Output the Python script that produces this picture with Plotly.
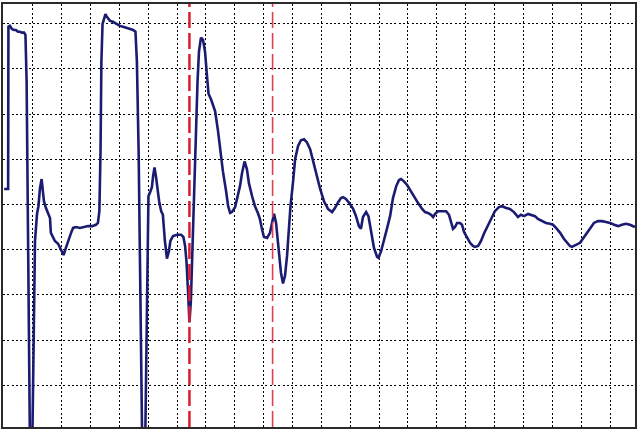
import plotly.graph_objects as go

# time in grid divisions, amplitude in grid divisions
t = [0.01, 0.15, 0.16, 0.21, 0.28, 0.35, 0.42, 0.49, 0.56, 0.63, 0.70, 0.75, 0.79, 0.82, 0.87, 0.91, 0.98,
     1.03, 1.08, 1.15, 1.20, 1.25, 1.31, 1.36, 1.39, 1.46, 1.53, 1.60, 1.63, 1.70, 1.77, 1.88, 1.95, 2.02,
     2.07, 2.15, 2.22, 2.33, 2.40, 2.50, 2.64, 2.78, 2.92, 3.06, 3.19, 3.26, 3.31, 3.35, 3.38, 3.42, 3.47,
     3.52, 3.57, 3.68, 3.78, 3.92, 4.02, 4.13, 4.23, 4.37, 4.48, 4.56, 4.61, 4.67, 4.72, 4.77, 4.80, 4.89,
     4.94, 4.98, 5.01, 5.08, 5.13, 5.17, 5.22, 5.27, 5.32, 5.38, 5.45, 5.51, 5.58, 5.65, 5.72, 5.77, 5.86,
     6.00, 6.14, 6.22, 6.28, 6.33, 6.38, 6.43, 6.48, 6.52, 6.55, 6.61, 6.66, 6.71, 6.76, 6.83, 6.90, 6.97,
     7.04, 7.09, 7.18, 7.25, 7.32, 7.42, 7.49, 7.59, 7.70, 7.77, 7.84, 7.90, 8.01, 8.11, 8.18, 8.25, 8.34,
     8.42, 8.49, 8.60, 8.70, 8.80, 8.87, 8.94, 9.01, 9.12, 9.22, 9.29, 9.36, 9.43, 9.50, 9.60, 9.67, 9.74,
     9.81, 9.88, 9.93, 10.02, 10.09, 10.19, 10.29, 10.40, 10.50, 10.61, 10.71, 10.81, 10.95, 11.09, 11.23,
     11.37, 11.47, 11.58, 11.68, 11.75, 11.85, 11.99, 12.10, 12.20, 12.30, 12.37, 12.44, 12.55, 12.63,
     12.72, 12.82, 12.93, 12.98, 13.07, 13.17, 13.27, 13.38, 13.48, 13.59, 13.69, 13.76, 13.86, 13.97,
     14.07, 14.21, 14.35, 14.49, 14.59, 14.69, 14.80, 14.87, 14.94, 15.04, 15.18, 15.32, 15.42, 15.49,
     15.56, 15.63, 15.70, 15.80, 15.87, 15.94, 16.04, 16.15, 16.25, 16.32, 16.43, 16.53, 16.63, 16.74,
     16.88, 17.01, 17.15, 17.26, 17.40, 17.53, 17.67, 17.81, 17.91, 18.02, 18.16, 18.30, 18.40, 18.50,
     18.64, 18.78, 18.92, 19.02, 19.13, 19.27, 19.40, 19.51, 19.61, 19.68, 19.82, 19.96, 20.10, 20.20,
     20.30, 20.44, 20.58, 20.72, 20.86, 21.00, 21.14, 21.28, 21.41, 21.55, 21.69, 21.86]

v = [5.34, 5.34, 8.93, 8.95, 8.88, 8.86, 8.86, 8.82, 8.82, 8.80, 8.80, 8.75, 7.72, 5.07, 2.21, -0.65, -0.65,
     2.21, 4.19, 4.79, 4.96, 5.34, 5.56, 5.25, 5.07, 4.92, 4.81, 4.70, 4.37, 4.26, 4.19, 4.13, 4.04, 3.93,
     3.88, 4.04, 4.19, 4.37, 4.48, 4.50, 4.48, 4.50, 4.52, 4.52, 4.55, 4.59, 4.85, 6.17, 8.16, 8.99, 9.13,
     9.21, 9.15, 9.06, 9.04, 8.99, 8.95, 8.93, 8.91, 8.88, 8.86, 8.82, 8.16, 6.17, 3.31, 0.67, -0.65, -0.65,
     1.77, 3.97, 5.18, 5.29, 5.38, 5.62, 5.82, 5.62, 5.34, 5.07, 4.85, 4.77, 4.19, 3.80, 3.97, 4.19, 4.30,
     4.33, 4.33, 4.28, 4.08, 3.71, 3.09, 2.39, 2.87, 3.75, 4.74, 5.51, 6.62, 7.72, 8.38, 8.69, 8.64, 8.38,
     7.83, 7.45, 7.32, 7.21, 7.06, 6.62, 6.22, 5.73, 5.29, 4.96, 4.81, 4.83, 4.94, 5.18, 5.40, 5.69, 5.95,
     5.78, 5.47, 5.18, 4.96, 4.81, 4.68, 4.46, 4.28, 4.26, 4.37, 4.59, 4.79, 4.59, 4.08, 3.49, 3.25, 3.42,
     3.86, 4.52, 4.96, 5.51, 6.00, 6.29, 6.42, 6.44, 6.37, 6.22, 5.95, 5.69, 5.36, 5.07, 4.90,
     4.83, 4.92, 5.05, 5.14, 5.16, 5.12, 5.01, 4.90, 4.74, 4.52, 4.46, 4.72, 4.83, 4.74,
     4.41, 4.04, 3.84, 3.82, 3.97, 4.19, 4.46, 4.74, 5.14, 5.40, 5.54, 5.56, 5.51, 5.43,
     5.32, 5.16, 5.03, 4.90, 4.83, 4.81, 4.77, 4.72, 4.79, 4.85, 4.85, 4.85, 4.77, 4.63,
     4.46, 4.50, 4.59, 4.59, 4.55, 4.39, 4.26, 4.15, 4.08, 4.06, 4.08, 4.19, 4.35, 4.50,
     4.70, 4.85, 4.94, 4.96, 4.92, 4.90, 4.83, 4.72, 4.77, 4.74, 4.79, 4.77, 4.74, 4.68,
     4.63, 4.59, 4.57, 4.55, 4.48, 4.37, 4.24, 4.15, 4.08, 4.06, 4.10, 4.15, 4.28, 4.37,
     4.48, 4.59, 4.63, 4.63, 4.61, 4.59, 4.55, 4.52, 4.55, 4.57, 4.55, 4.50]

markers = [6.43, 9.31]
marker_colors = ["#dd1c2c", "#e0404e"]
marker_widths = [2.5, 1.6]

fig = go.Figure()
fig.add_trace(go.Scatter(x=t, y=v, mode="lines",
                         line=dict(color="#1b1b72", width=2.6), showlegend=False,
                         hoverinfo="skip"))

for m, c, w in zip(markers, marker_colors, marker_widths):
    fig.add_shape(type="line", x0=m, x1=m, y0=0, y1=1, xref="x", yref="paper",
                  line=dict(color=c, width=w, dash="16px,5px"), layer="above")

axis_common = dict(showticklabels=False, ticks="", zeroline=False, showgrid=True,
                   gridcolor="#000000", gridwidth=1, griddash="2px,2.3px",
                   showline=True, mirror=True, linecolor="#2a2a2a", linewidth=2,
                   dtick=1, tick0=0)

fig.update_layout(
    width=640, height=431,
    margin=dict(l=3, r=5, t=2, b=4),
    paper_bgcolor="white", plot_bgcolor="white",
    xaxis=dict(range=[-0.028, 21.863], **axis_common),
    yaxis=dict(range=[0.075, 9.434], **axis_common),
)

fig.write_html("out.html", config={"displayModeBar": False, "staticPlot": True},
               post_script="document.body.style.margin='0';document.body.style.overflow='hidden';")
